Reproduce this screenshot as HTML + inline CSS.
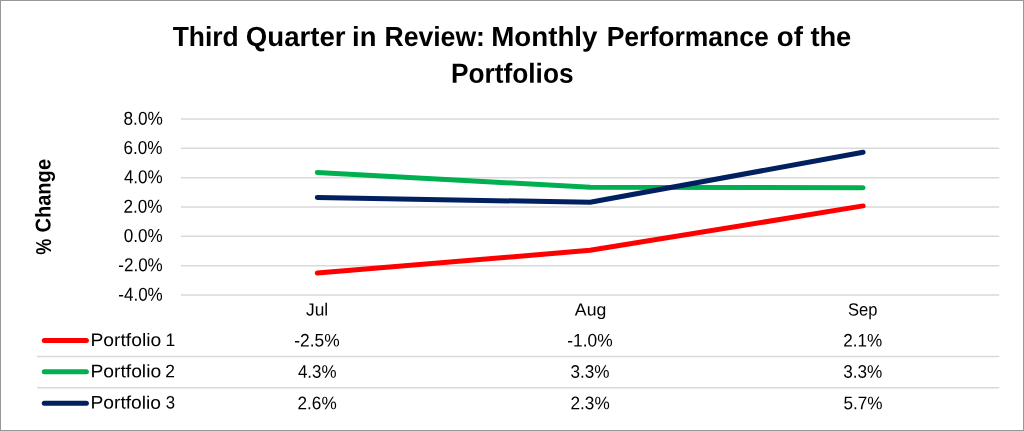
<!DOCTYPE html>
<html><head><meta charset="utf-8"><title>Chart</title>
<style>
html,body{margin:0;padding:0;background:#fff;}
body{width:1024px;height:431px;overflow:hidden;font-family:"Liberation Sans",sans-serif;}
svg{display:block;font-family:"Liberation Sans",sans-serif;will-change:transform;}
</style></head><body>
<svg width="1024" height="431" viewBox="0 0 1024 431">
<rect x="0" y="0" width="1024" height="431" fill="#fff"/>
<rect x="0.5" y="0.5" width="1023" height="430" fill="none" stroke="#979797" stroke-width="1"/>
<g stroke="#d9d9d9" stroke-width="1.5" fill="none">
<line x1="180.9" x2="999.25" y1="119.00" y2="119.00"/>
<line x1="180.9" x2="999.25" y1="148.33" y2="148.33"/>
<line x1="180.9" x2="999.25" y1="177.67" y2="177.67"/>
<line x1="180.9" x2="999.25" y1="207.00" y2="207.00"/>
<line x1="180.9" x2="999.25" y1="236.33" y2="236.33"/>
<line x1="180.9" x2="999.25" y1="265.66" y2="265.66"/>
<line x1="180.9" x2="999.25" y1="295.00" y2="295.00"/>
<line x1="37.0" x2="999.25" y1="356.5" y2="356.5"/>
<line x1="37.0" x2="999.25" y1="387.8" y2="387.8"/>
</g>
<polyline points="317.3,273.1 590.1,250.3 863.1,205.9" fill="none" stroke="#ff0000" stroke-width="5" stroke-linecap="round" stroke-linejoin="round"/>
<polyline points="317.3,172.5 590.1,187.2 863.1,187.7" fill="none" stroke="#00b050" stroke-width="5" stroke-linecap="round" stroke-linejoin="round"/>
<polyline points="317.3,197.5 590.1,202.3 863.1,152.2" fill="none" stroke="#002060" stroke-width="5" stroke-linecap="round" stroke-linejoin="round"/>
<line x1="44.3" x2="86.4" y1="340.4" y2="340.4" stroke="#ff0000" stroke-width="5" stroke-linecap="round"/>
<line x1="44.3" x2="86.4" y1="371.8" y2="371.8" stroke="#00b050" stroke-width="5" stroke-linecap="round"/>
<line x1="44.3" x2="86.4" y1="403.3" y2="403.3" stroke="#002060" stroke-width="5" stroke-linecap="round"/>

<g fill="#000">
<text transform="translate(172.74,45.90) rotate(0.03) scale(0.9566,1)" font-size="27.62" font-weight="700">Third</text>
<text transform="translate(245.80,45.90) rotate(0.03) scale(0.9993,1)" font-size="27.62" font-weight="700">Quarter</text>
<text transform="translate(352.09,45.90) rotate(0.03) scale(0.9924,1)" font-size="27.62" font-weight="700">in</text>
<text transform="translate(384.43,45.90) rotate(0.03) scale(0.9633,1)" font-size="27.62" font-weight="700">Review:</text>
<text transform="translate(491.16,45.90) rotate(0.03) scale(1.0048,1)" font-size="27.62" font-weight="700">Monthly</text>
<text transform="translate(606.64,45.90) rotate(0.03) scale(0.9607,1)" font-size="27.62" font-weight="700">Performance</text>
<text transform="translate(776.78,45.90) rotate(0.03) scale(1.0024,1)" font-size="27.62" font-weight="700">of</text>
<text transform="translate(810.38,45.90) rotate(0.03) scale(0.9877,1)" font-size="27.62" font-weight="700">the</text>
<text transform="translate(451.05,82.80) rotate(0.03) scale(0.9507,1)" font-size="27.62" font-weight="700">Portfolios</text>
<text transform="translate(123.52,124.65) rotate(0.03) scale(0.9190,1)" font-size="18.77" font-weight="400">8.0%</text>
<text transform="translate(123.59,153.98) rotate(0.03) scale(0.9113,1)" font-size="18.77" font-weight="400">6.0%</text>
<text transform="translate(123.88,183.32) rotate(0.03) scale(0.9094,1)" font-size="18.77" font-weight="400">4.0%</text>
<text transform="translate(123.48,212.65) rotate(0.03) scale(0.9140,1)" font-size="18.77" font-weight="400">2.0%</text>
<text transform="translate(123.72,241.98) rotate(0.03) scale(0.9113,1)" font-size="18.77" font-weight="400">0.0%</text>
<text transform="translate(118.21,271.31) rotate(0.03) scale(0.9097,1)" font-size="18.77" font-weight="400">-2.0%</text>
<text transform="translate(118.21,300.65) rotate(0.03) scale(0.9097,1)" font-size="18.77" font-weight="400">-4.0%</text>
<text transform="translate(50.50,254.85) rotate(-90.03) scale(0.8420,1)" font-size="21.49" font-weight="700">%</text>
<text transform="translate(50.50,232.61) rotate(-90.03) scale(0.9353,1)" font-size="21.49" font-weight="700">Change</text>
<text transform="translate(305.98,315.60) rotate(0.03) scale(0.9946,1)" font-size="17.44" font-weight="400">Jul</text>
<text transform="translate(574.87,315.50) rotate(0.03) scale(1.0116,1)" font-size="17.44" font-weight="400">Aug</text>
<text transform="translate(847.96,315.60) rotate(0.03) scale(0.9386,1)" font-size="17.62" font-weight="400">Sep</text>
<text transform="translate(90.41,346.00) rotate(0.03) scale(1.0725,1)" font-size="18.02" font-weight="400">Portfolio</text>
<text transform="translate(165.48,346.00) rotate(0.03) scale(0.9687,1)" font-size="18.02" font-weight="400">1</text>
<text transform="translate(294.34,346.55) rotate(0.03) scale(0.9550,1)" font-size="18.19" font-weight="400">-2.5%</text>
<text transform="translate(567.34,346.55) rotate(0.03) scale(0.9550,1)" font-size="18.19" font-weight="400">-1.0%</text>
<text transform="translate(843.32,346.55) rotate(0.03) scale(0.9408,1)" font-size="18.19" font-weight="400">2.1%</text>
<text transform="translate(90.41,377.30) rotate(0.03) scale(1.0716,1)" font-size="18.02" font-weight="400">Portfolio</text>
<text transform="translate(165.34,377.30) rotate(0.03) scale(0.9673,1)" font-size="18.02" font-weight="400">2</text>
<text transform="translate(297.90,377.85) rotate(0.03) scale(0.9315,1)" font-size="18.19" font-weight="400">4.3%</text>
<text transform="translate(570.46,377.85) rotate(0.03) scale(0.9413,1)" font-size="18.19" font-weight="400">3.3%</text>
<text transform="translate(843.20,377.85) rotate(0.03) scale(0.9450,1)" font-size="18.19" font-weight="400">3.3%</text>
<text transform="translate(90.41,408.60) rotate(0.03) scale(1.0696,1)" font-size="18.02" font-weight="400">Portfolio</text>
<text transform="translate(165.75,408.60) rotate(0.03) scale(0.9291,1)" font-size="18.02" font-weight="400">3</text>
<text transform="translate(297.50,409.15) rotate(0.03) scale(0.9444,1)" font-size="18.19" font-weight="400">2.6%</text>
<text transform="translate(570.50,409.15) rotate(0.03) scale(0.9444,1)" font-size="18.19" font-weight="400">2.3%</text>
<text transform="translate(843.40,409.15) rotate(0.03) scale(0.9435,1)" font-size="18.19" font-weight="400">5.7%</text>
</g>
</svg>
</body></html>
